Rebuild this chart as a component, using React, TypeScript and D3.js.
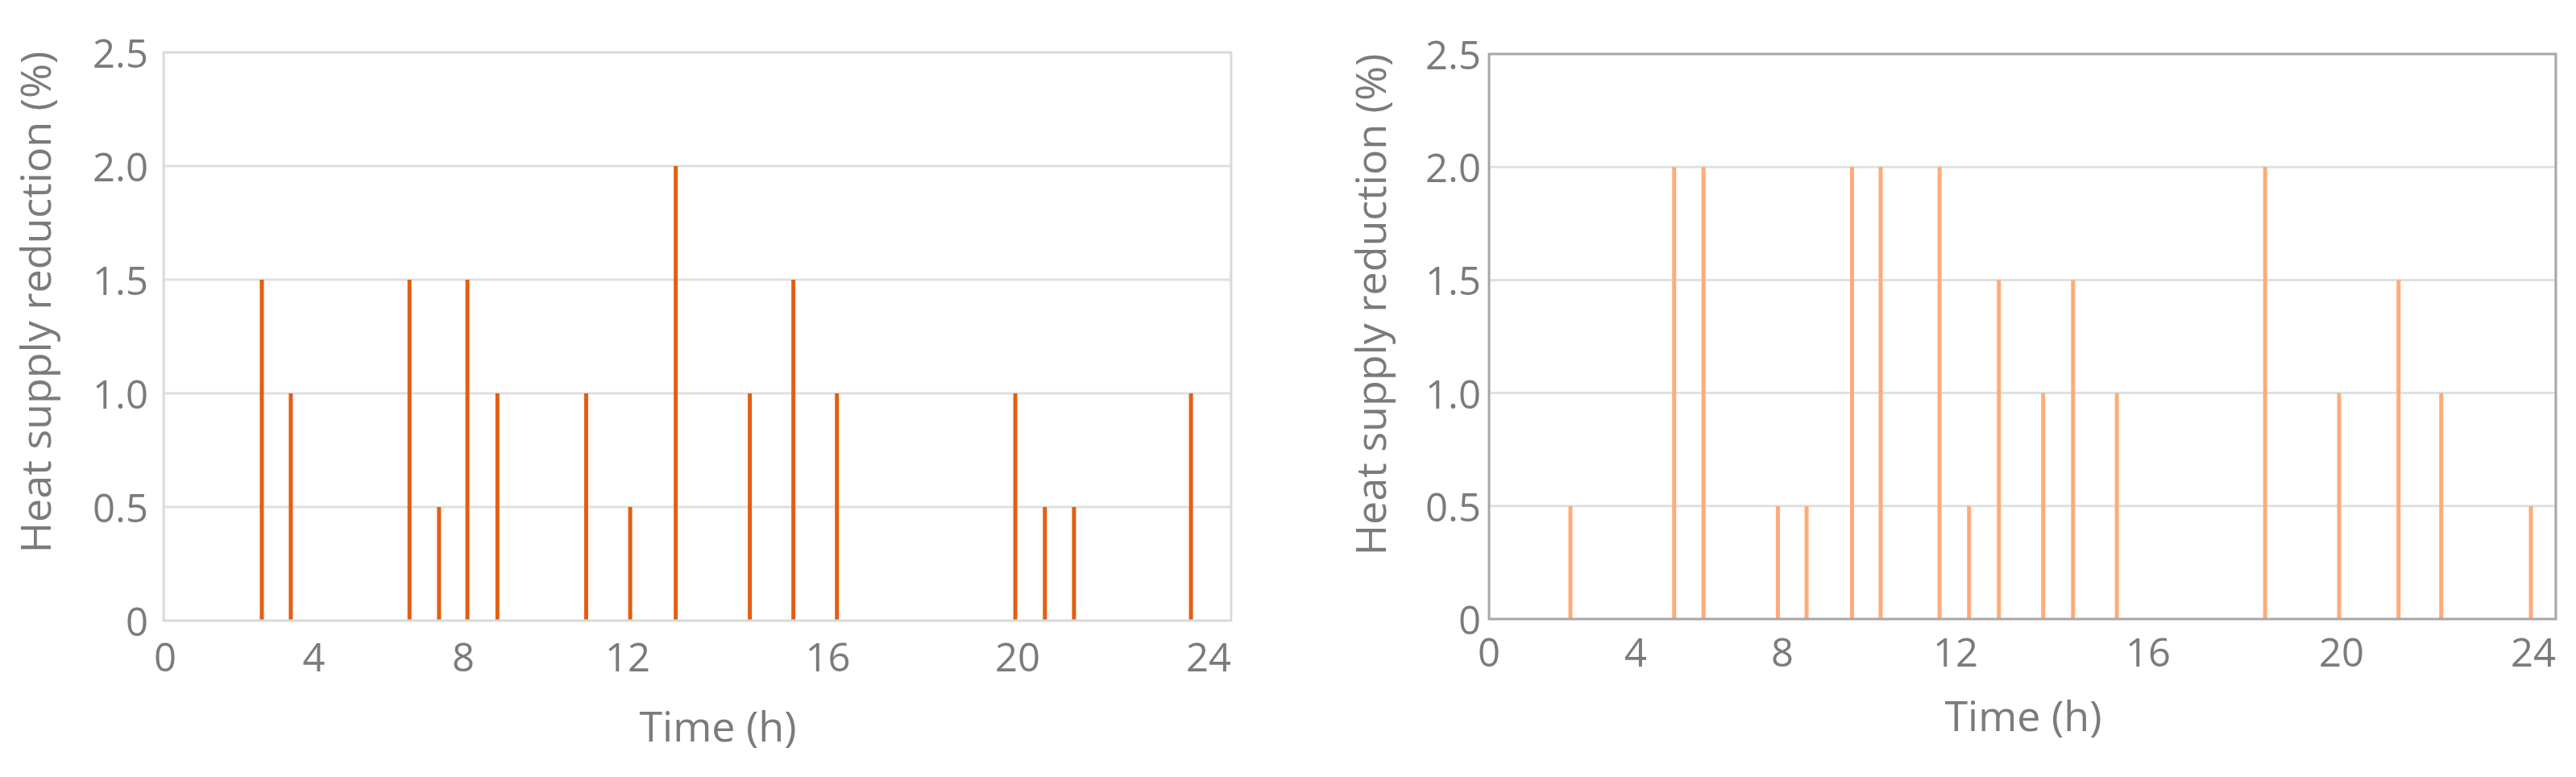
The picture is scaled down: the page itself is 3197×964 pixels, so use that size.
import React from "react";
import * as d3 from "d3";

// tick values shared by both panels
const xTicks = [0, 4, 8, 12, 16, 20, 24];
const yTicks = [0, 0.5, 1, 1.5, 2, 2.5];

// left panel: hour of each event and reduction (%)
const leftHours = [2.6, 3.38, 6.56, 7.35, 8.1, 8.83, 10.99, 12.05, 12.96, 14.44, 15.31, 16.19, 19.95, 20.57, 21.18, 23.63];
const leftValues = [1.5, 1, 1.5, 0.5, 1.5, 1, 1, 0.5, 2, 1, 1.5, 1, 1, 0.5, 0.5, 1];

// right panel
const rightHours = [2.22, 5.05, 5.85, 7.88, 8.56, 9.61, 10.27, 11.63, 12.28, 12.9, 13.82, 14.44, 15.35, 18.42, 19.95, 21.19, 22.08, 23.95];
const rightValues = [0.5, 2, 2, 0.5, 0.5, 2, 2, 2, 0.5, 1.5, 1, 1.5, 1, 2, 1, 1.5, 1, 0.5];

const W = 3197;
const H = 964;
const FONT = "'Open Sans', 'Noto Sans', sans-serif";
const TEXT = "#7b7b7b";

const fmtY = (d: number) => (d === 0 ? "0" : d3.format(".1f")(d));

type PanelProps = {
  hours: number[];
  values: number[];
  color: string;
  tickPx: number[]; // where the hour labels sit (the axis is not evenly spaced)
  yRange: [number, number];
  xStart: number;
  xEnd: number;
  frame: string;
  ytickX: number;
  xtickY: number;
  yTitle: { x: number; y: number };
  xTitle: { x: number; y: number };
};

const Panel = (p: PanelProps) => {
  // piecewise linear scale so the labels land where they do in the picture
  const x = d3.scaleLinear().domain(xTicks).range(p.tickPx);
  const y = d3.scaleLinear().domain([0, 2.5]).range(p.yRange);
  const x0 = x(p.xStart);
  const x1 = x(p.xEnd);
  const barW = 5;

  return (
    <g>
      {yTicks.slice(1, -1).map((t) => (
        <line key={"g" + t} x1={x0} x2={x1} y1={y(t)} y2={y(t)} stroke="#e0e0e0" strokeWidth={3} />
      ))}
      {p.hours.map((h, i) => (
        <rect
          key={"b" + i}
          x={x(h) - barW / 2}
          y={y(p.values[i])}
          width={barW}
          height={y(0) - y(p.values[i])}
          fill={p.color}
        />
      ))}
      <rect x={x0} y={y(2.5)} width={x1 - x0} height={y(0) - y(2.5)} fill="none" stroke={p.frame} strokeWidth={3} />
      {yTicks.map((t) => (
        <text key={"yt" + t} x={p.ytickX} y={y(t)} textAnchor="end" dominantBaseline="central"
          fontFamily={FONT} fontSize={49} fill={TEXT}>
          {fmtY(t)}
        </text>
      ))}
      {xTicks.map((t) => (
        <text key={"xt" + t} x={x(t)} y={p.xtickY} textAnchor="middle"
          fontFamily={FONT} fontSize={49} fill={TEXT}>
          {t}
        </text>
      ))}
      <text transform={`translate(${p.yTitle.x},${p.yTitle.y}) rotate(-90)`} textAnchor="middle"
        fontFamily={FONT} fontSize={52} fill={TEXT}>
        Heat supply reduction (%)
      </text>
      <text x={p.xTitle.x} y={p.xTitle.y} textAnchor="middle" fontFamily={FONT} fontSize={52} fill={TEXT}>
        Time (h)
      </text>
    </g>
  );
};

export default function App() {
  return (
    <svg width={W} height={H} style={{ position: "absolute", left: 0, top: 0, background: "#fff" }}>
      <rect width={W} height={H} fill="#fff" />
      <Panel
        hours={leftHours}
        values={leftValues}
        color="#e25f12"
        tickPx={[205, 389.5, 575, 779, 1027.5, 1263, 1500]}
        yRange={[770, 65]}
        xStart={-0.04}
        xEnd={24.47}
        frame="#d9d9d9"
        ytickX={184}
        xtickY={833}
        yTitle={{ x: 63, y: 375 }}
        xTitle={{ x: 891, y: 920 }}
      />
      <Panel
        hours={rightHours}
        values={rightValues}
        color="#ffab78"
        tickPx={[1848, 2030, 2212, 2427, 2666, 2906, 3144]}
        yRange={[768, 67]}
        xStart={0}
        xEnd={24.47}
        frame="#a6a6a6"
        ytickX={1838}
        xtickY={827}
        yTitle={{ x: 1720, y: 378 }}
        xTitle={{ x: 2511, y: 907 }}
      />
    </svg>
  );
}
